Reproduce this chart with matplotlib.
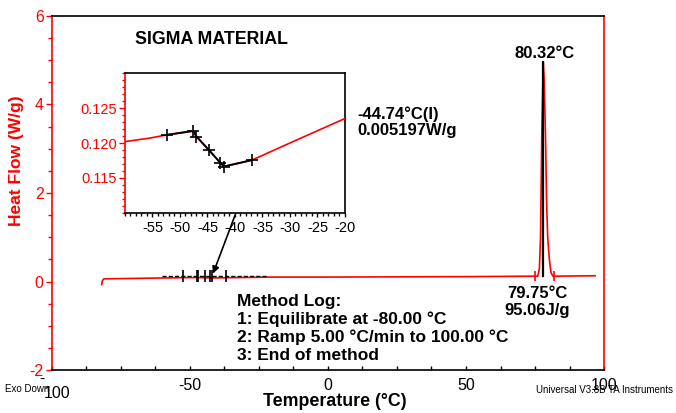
import matplotlib
matplotlib.use("Agg")
import matplotlib.pyplot as plt
from matplotlib.ticker import MultipleLocator

plt.rcParams['font.family'] = ['Liberation Sans', 'DejaVu Sans']
plt.rcParams['axes.unicode_minus'] = False

# ---- data ----
main_temp = [-82.0, -81.7, -81.2, -70.0, -60.0, -47.5, -42.0, -20.0, 0.0, 50.0, 74.0,
             76.0, 76.6, 77.0, 77.5, 78.0, 78.3, 78.8, 79.2, 79.6, 80.2, 80.8, 81.5, 96.8]
main_hf = [-0.07, 0.02, 0.06, 0.07, 0.08, 0.09, 0.08, 0.10, 0.10, 0.11, 0.12,
           0.12, 0.30, 1.00, 3.50, 4.95, 4.60, 3.30, 1.80, 1.00, 0.50, 0.20, 0.12, 0.13]

inset_temp = [-60.0, -55.5, -52.4, -47.6, -47.0, -44.7, -42.7, -42.0, -36.9, -30.0, -20.0]
inset_hf = [0.1202, 0.1207, 0.12116, 0.12172, 0.12092, 0.11896, 0.1172, 0.11664, 0.11756, 0.1200, 0.1235]

tg_temp = [-52.4, -47.6, -47.0, -44.7, -42.7, -42.0, -36.9]
tg_hf = [0.12116, 0.12172, 0.12092, 0.11896, 0.1172, 0.11664, 0.11756]

peak_temp = 77.8
peak_top = 4.95
peak_base = 0.12
limits_temp = [75.0, 81.9]

method_log = ["Method Log:", "1: Equilibrate at -80.00 °C",
              "2: Ramp 5.00 °C/min to 100.00 °C", "3: End of method"]

# ---- figure ----
fig = plt.figure(figsize=(6.76, 4.13), dpi=100)
ax = fig.add_axes([0.0769, 0.1041, 0.8166, 0.8572])
ax.plot(main_temp, main_hf, color='red', lw=1.2, zorder=3)

# glass transition marks at main scale
ax.plot([-60, -22], [0.13, 0.13], color='black', lw=1.0, ls=(0, (3, 1.5)), zorder=4)
ax.plot(tg_temp, [0.12] * len(tg_temp), color='black', lw=0, marker='|',
        markersize=8, mew=1.2, zorder=4)

# peak
ax.plot([peak_temp, peak_temp], [peak_base, peak_top], color='black', lw=1.6, zorder=4)
ax.plot(limits_temp, [0.12, 0.12], color='red', lw=0, marker='|', markersize=7, mew=1.2, zorder=4)

ax.set_xlim(-100, 100)
ax.set_ylim(-2, 6)
ax.xaxis.set_minor_locator(MultipleLocator(12.5))
ax.yaxis.set_major_locator(MultipleLocator(2))
ax.yaxis.set_minor_locator(MultipleLocator(0.5))
ax.tick_params(axis='x', which='both', direction='in', length=3, width=1, pad=6,
               labelsize=11.5, colors='black')
ax.tick_params(axis='y', which='major', direction='out', length=4, width=1, pad=2,
               labelsize=11.5, colors='red')
ax.tick_params(axis='y', which='minor', direction='out', length=3, width=1, colors='red')
ax.set_xticks([-50, 0, 50, 100])
ax.spines['left'].set_color('red')
ax.spines['right'].set_color('red')
for s in ax.spines.values():
    s.set_linewidth(1.2)

# wrapped -100 label
fig.text(42 / 676, 1 - 379 / 413, "-", fontsize=11.5, ha='center', va='center')
fig.text(57 / 676, 1 - 394 / 413, "100", fontsize=11.5, ha='center', va='center')

fig.text(0.0237, 0.61, "Heat Flow (W/g)", rotation=90, color='red', fontweight='bold',
         fontsize=12.5, ha='center', va='center')
fig.text(335 / 676, 1 - 402 / 413, "Temperature (°C)", fontweight='bold', fontsize=12.8,
         ha='center', va='center')
fig.text(5 / 676, 1 - 389 / 413, "Exo Down", fontsize=7, ha='left', va='center')
fig.text(673 / 676, 1 - 390 / 413, "Universal V3.8B TA Instruments", fontsize=7,
         ha='right', va='center')

ax.text(-69.9, 5.47, "SIGMA MATERIAL", fontweight='bold', fontsize=12.8, ha='left', va='center')
ax.text(78.3, 5.15, "80.32°C", fontweight='bold', fontsize=12, ha='center', va='center')
ax.text(10.5, 3.77, "-44.74°C(I)", fontweight='bold', fontsize=12, ha='left', va='center')
ax.text(10.5, 3.41, "0.005197W/g", fontweight='bold', fontsize=12, ha='left', va='center')
ax.text(75.7, -0.27, "79.75°C", fontweight='bold', fontsize=12, ha='center', va='center')
ax.text(75.7, -0.66, "95.06J/g", fontweight='bold', fontsize=12, ha='center', va='center')
for i, line in enumerate(method_log):
    ax.text(-33.0, -0.45 - 0.41 * i, line, fontweight='bold', fontsize=12.5, ha='left', va='center')

# arrow from inset to transition
ax.annotate("", xy=(-42.0, 0.12), xytext=(-33.3, 1.56),
            arrowprops=dict(arrowstyle='-|>', color='black', lw=1.2, mutation_scale=10),
            zorder=5)

# ---- inset ----
ins = fig.add_axes([0.1849, 0.4843, 0.3254, 0.3389])
ins.plot(inset_temp, inset_hf, color='red', lw=1.2, zorder=3)
ins.plot(tg_temp, tg_hf, color='black', lw=1.4, marker='+', markersize=9, mew=1.2, zorder=4)
ins.set_xlim(-60, -20)
ins.set_ylim(0.110, 0.130)
ins.xaxis.set_minor_locator(MultipleLocator(1))
ins.set_xticks([-55, -50, -45, -40, -35, -30, -25, -20])
ins.yaxis.set_minor_locator(MultipleLocator(0.001))
ins.set_yticks([0.115, 0.120, 0.125])
ins.set_yticklabels(["0.115", "0.120", "0.125"])
ins.tick_params(axis='x', which='major', direction='out', length=3, width=1, pad=3,
                labelsize=10.5, colors='black')
ins.tick_params(axis='x', which='minor', direction='out', length=2, width=1)
ins.tick_params(axis='y', which='major', direction='out', length=4, width=1, pad=2,
                labelsize=10.5, colors='red')
ins.tick_params(axis='y', which='minor', direction='out', length=2.5, width=1, colors='red')
ins.spines['left'].set_color('red')
for s in ins.spines.values():
    s.set_linewidth(1.2)

fig.savefig("out.png", dpi=100)
